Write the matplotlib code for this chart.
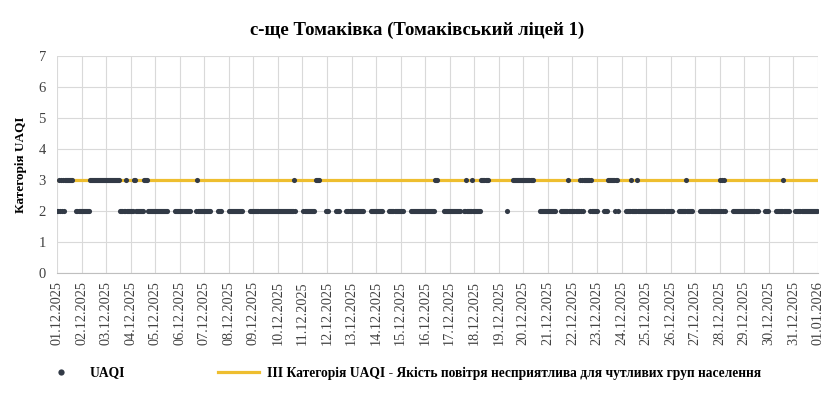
import numpy as np
import matplotlib
matplotlib.use("Agg")
import matplotlib.pyplot as plt
from matplotlib.lines import Line2D
from matplotlib.legend_handler import HandlerLine2D

# ---------------- data ----------------
title = "с-ще Томаківка (Томаківський ліцей 1)"
y_label = "Категорія UAQI"
series_name = "UAQI"
threshold_name = "ІІІ Категорія UAQI - Якість повітря несприятлива для чутливих груп населення"
threshold_value = 3

# hourly UAQI category per day (24 chars per day, '.' = no data)
uaqi_by_day = [
    "2232323233333333...22222",  # 01.12
    "222222223333333333333333",  # 02.12
    "333333333333332222232222",  # 03.12
    "222332222222233332222222",  # 04.12
    "2222222222222......22222",  # 05.12
    "22222222222.....23222222",  # 06.12
    "2222222......2222.......",  # 07.12
    "22222222222222.......222",  # 08.12
    "222222222222222222222222",  # 09.12
    "222222222222222232......",  # 10.12
    ".22222222222.3333......2",  # 11.12
    "22.......2222......22222",  # 12.12
    "222222222222.......22222",  # 13.12
    "2222222......22222222222",  # 14.12
    "222.......22222222222222",  # 15.12
    "2222222222333.....222222",  # 16.12
    "22222222222...2232222232",  # 17.12
    "22222223333333..........",  # 18.12
    "........2.....3333333333",  # 19.12
    "3333333333......22222222",  # 20.12
    "22222222.....22222223222",  # 21.12
    "222222232323333332322222",  # 22.12
    "2......222233333332332..",  # 23.12
    "....22222322222322222222",  # 24.12
    "222222222222222222222222",  # 25.12
    "22......22222223222222..",  # 26.12
    ".....2222222222222222222",  # 27.12
    "323232.......22222222222",  # 28.12
    "22222222222222......2222",  # 29.12
    ".......22222223222222...",  # 30.12
    "..2222222222222222222222",  # 31.12
]

date_labels = [
    "01.12.2025", "02.12.2025", "03.12.2025", "04.12.2025", "05.12.2025",
    "06.12.2025", "07.12.2025", "08.12.2025", "09.12.2025", "10.12.2025",
    "11.12.2025", "12.12.2025", "13.12.2025", "14.12.2025", "15.12.2025",
    "16.12.2025", "17.12.2025", "18.12.2025", "19.12.2025", "20.12.2025",
    "21.12.2025", "22.12.2025", "23.12.2025", "24.12.2025", "25.12.2025",
    "26.12.2025", "27.12.2025", "28.12.2025", "29.12.2025", "30.12.2025",
    "31.12.2025", "01.01.2026",
]
y_ticks = [0, 1, 2, 3, 4, 5, 6, 7]

# ---------------- build series ----------------
values = []
for day in uaqi_by_day:
    for c in day:
        values.append(np.nan if c == "." else float(c))
values = np.array(values)
hours = np.arange(len(values))
hours_per_day = 24
axis_hours = np.arange(len(values) + 1)

# ---------------- plot ----------------
serif = ["Liberation Serif", "DejaVu Serif"]
plt.rcParams["font.family"] = serif

fig = plt.figure(figsize=(8.35, 3.93), dpi=100)
ax = fig.add_axes([0.0683, 0.3053, 0.9112, 0.5522])

dark = "#323a46"
gold = "#EEBE2F"
grid_c = "#d9d9d9"

ax.plot(axis_hours, np.full(len(axis_hours), threshold_value), color=gold,
        lw=2.3, zorder=2, solid_capstyle="butt")
ax.plot(hours, values, linestyle="none", marker="o", markersize=3.7,
        color=dark, markeredgewidth=0, zorder=3)

ax.set_xlim(0, axis_hours[-1])
ax.set_ylim(y_ticks[0], y_ticks[-1])
ax.set_yticks(y_ticks)
ax.set_xticks(np.arange(len(date_labels)) * hours_per_day)
ax.set_xticklabels(date_labels, rotation=90, fontsize=10.3, color="#404040")
ax.tick_params(axis="y", labelsize=10.5, labelcolor="#404040", length=0, pad=8)
ax.tick_params(axis="x", length=0, pad=6)

ax.grid(True, color=grid_c, lw=0.8)
ax.set_axisbelow(True)
for s in ["left", "right", "top"]:
    ax.spines[s].set_visible(False)
ax.spines["bottom"].set_color("#bfbfbf")
ax.spines["bottom"].set_linewidth(0.8)

ax.set_ylabel(y_label, fontsize=9.5, fontweight="bold", labelpad=8)
fig.suptitle(title, fontsize=13.5, fontweight="bold", y=0.945)


class RightMarkerHandler(HandlerLine2D):
    def get_xdata(self, legend, xdescent, ydescent, width, height, fontsize):
        return [-xdescent, -xdescent + width], [-xdescent + 0.8 * width]


h1 = Line2D([], [], linestyle="none", marker="o", markersize=4.5, color=dark,
            markeredgewidth=0)
h2 = Line2D([], [], color=gold, lw=2.3)
fig.legend([h1, h2], [series_name, threshold_name], loc="center",
           bbox_to_anchor=(0.480, 0.051), ncol=2, frameon=False,
           prop={"family": serif, "weight": "bold", "size": 9.75},
           handlelength=3, handletextpad=0.6, columnspacing=6.9,
           handler_map={h1: RightMarkerHandler()})

fig.savefig("out.png", dpi=100)
